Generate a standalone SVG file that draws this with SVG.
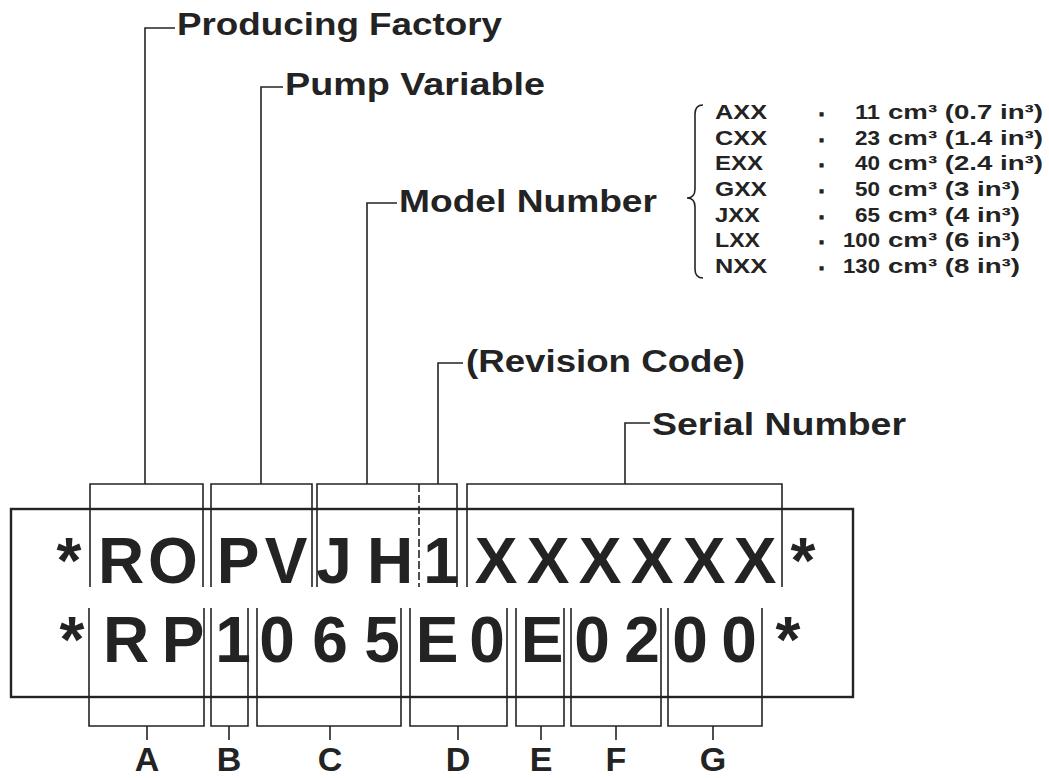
<svg xmlns="http://www.w3.org/2000/svg" width="1049" height="778" viewBox="0 0 1049 778">
<style>
.t{font-family:"Liberation Sans",Arial,Helvetica,sans-serif;font-weight:bold;fill:#232323}
.big{font-size:64px;text-anchor:middle}
.lbl{font-size:31px}
.tbl{font-size:20px}
.ltr{font-size:34px;text-anchor:middle}
.dot{font-size:20px;text-anchor:middle;stroke:#232323;stroke-width:1.2}
.ln{fill:none;stroke:#232323;stroke-width:1.6}
.box{fill:none;stroke:#232323;stroke-width:2.4}
.dash{stroke-dasharray:8 3}
</style>
<rect width="1049" height="778" fill="#ffffff"/>

<g id="connectors">
  <path class="ln" d="M145,484 V28 H175"/>
  <path class="ln" d="M261,484 V87 H283"/>
  <path class="ln" d="M367,484 V203 H397"/>
  <path class="ln" d="M438,484 V363 H463"/>
  <path class="ln" d="M625,484 V423 H650"/>
  <path class="ln" d="M147,726 V740"/>
  <path class="ln" d="M229,726 V740"/>
  <path class="ln" d="M330,726 V740"/>
  <path class="ln" d="M458,726 V740"/>
  <path class="ln" d="M541,726 V740"/>
  <path class="ln" d="M616,726 V740"/>
  <path class="ln" d="M713,726 V740"/>
</g>

<g id="label-producing-factory">
  <text class="t lbl" x="177" y="35" textLength="325" lengthAdjust="spacingAndGlyphs">Producing Factory</text>
</g>
<g id="label-pump-variable">
  <text class="t lbl" x="285" y="95" textLength="260" lengthAdjust="spacingAndGlyphs">Pump Variable</text>
</g>
<g id="label-model-number">
  <text class="t lbl" x="399" y="212" textLength="258" lengthAdjust="spacingAndGlyphs">Model Number</text>
</g>
<g id="label-revision-code">
  <text class="t lbl" x="466" y="372" textLength="279" lengthAdjust="spacingAndGlyphs">(Revision Code)</text>
</g>
<g id="label-serial-number">
  <text class="t lbl" x="652" y="435" textLength="254" lengthAdjust="spacingAndGlyphs">Serial Number</text>
</g>

<g id="model-table">
  <path class="ln" stroke-width="2" d="M703,105 C697,105 695,108 695,114 L695,189 C695,195 692,198 687,198 C692,198 695,201 695,207 L695,269 C695,275 697,278 703,278"/>
  <g class="t tbl">
    <text x="715" y="119" textLength="52" lengthAdjust="spacingAndGlyphs">AXX</text>
    <text x="715" y="144.7" textLength="52" lengthAdjust="spacingAndGlyphs">CXX</text>
    <text x="715" y="170.3" textLength="48" lengthAdjust="spacingAndGlyphs">EXX</text>
    <text x="715" y="196" textLength="52" lengthAdjust="spacingAndGlyphs">GXX</text>
    <text x="715" y="221.7" textLength="45" lengthAdjust="spacingAndGlyphs">JXX</text>
    <text x="715" y="247.3" textLength="45" lengthAdjust="spacingAndGlyphs">LXX</text>
    <text x="715" y="273" textLength="52" lengthAdjust="spacingAndGlyphs">NXX</text>
  </g>
  <g class="t dot">
    <text x="822" y="121">·</text>
    <text x="822" y="146.7">·</text>
    <text x="822" y="172.3">·</text>
    <text x="822" y="198">·</text>
    <text x="822" y="223.7">·</text>
    <text x="822" y="249.3">·</text>
    <text x="822" y="275">·</text>
  </g>
  <g class="t tbl" style="text-anchor:end">
    <text x="880" y="119" textLength="25" lengthAdjust="spacingAndGlyphs">11</text>
    <text x="880" y="144.7" textLength="25" lengthAdjust="spacingAndGlyphs">23</text>
    <text x="880" y="170.3" textLength="25" lengthAdjust="spacingAndGlyphs">40</text>
    <text x="880" y="196" textLength="25" lengthAdjust="spacingAndGlyphs">50</text>
    <text x="880" y="221.7" textLength="25" lengthAdjust="spacingAndGlyphs">65</text>
    <text x="880" y="247.3" textLength="37" lengthAdjust="spacingAndGlyphs">100</text>
    <text x="880" y="273" textLength="37" lengthAdjust="spacingAndGlyphs">130</text>
  </g>
  <g class="t tbl">
    <text x="888" y="119" textLength="155" lengthAdjust="spacingAndGlyphs">cm³ (0.7 in³)</text>
    <text x="888" y="144.7" textLength="155" lengthAdjust="spacingAndGlyphs">cm³ (1.4 in³)</text>
    <text x="888" y="170.3" textLength="155" lengthAdjust="spacingAndGlyphs">cm³ (2.4 in³)</text>
    <text x="888" y="196" textLength="132" lengthAdjust="spacingAndGlyphs">cm³ (3 in³)</text>
    <text x="888" y="221.7" textLength="132" lengthAdjust="spacingAndGlyphs">cm³ (4 in³)</text>
    <text x="888" y="247.3" textLength="132" lengthAdjust="spacingAndGlyphs">cm³ (6 in³)</text>
    <text x="888" y="273" textLength="132" lengthAdjust="spacingAndGlyphs">cm³ (8 in³)</text>
  </g>
</g>

<g id="code-box">
  <rect class="box" x="11" y="509" width="842" height="188"/>
</g>

<g id="top-brackets">
  <path class="ln" d="M90,587 V484 H203 V587"/>
  <path class="ln" d="M211,587 V484 H312 V587"/>
  <path class="ln" d="M317,587 V484 H457 V587"/>
  <path class="ln dash" d="M419,484 V587"/>
  <path class="ln" d="M467,587 V484 H782 V587"/>
</g>

<g id="bottom-brackets">
  <path class="ln" d="M89,608 V726 H204 V608"/>
  <path class="ln" d="M211,608 V726 H248 V608"/>
  <path class="ln" d="M257,608 V726 H401 V608"/>
  <path class="ln" d="M410,608 V726 H507 V608"/>
  <path class="ln" d="M516,608 V726 H564 V608"/>
  <path class="ln" d="M571,608 V726 H661 V608"/>
  <path class="ln" d="M668,608 V726 H762 V608"/>
</g>

<g id="top-row" class="t big">
  <text x="69" y="583">*</text>
  <text x="121" y="583">R</text>
  <text x="173" y="583">O</text>
  <text x="238" y="583">P</text>
  <text x="286" y="583">V</text>
  <text x="334" y="583">J</text>
  <text x="390" y="583">H</text>
  <text x="441" y="583">1</text>
  <text x="496" y="583">X</text>
  <text x="548" y="583">X</text>
  <text x="600" y="583">X</text>
  <text x="652" y="583">X</text>
  <text x="704" y="583">X</text>
  <text x="755" y="583">X</text>
  <text x="803" y="583">*</text>
</g>

<g id="bottom-row" class="t big">
  <text x="72" y="662">*</text>
  <text x="126" y="662">R</text>
  <text x="183" y="662">P</text>
  <text x="233" y="662">1</text>
  <text x="277" y="662">0</text>
  <text x="330" y="662">6</text>
  <text x="382" y="662">5</text>
  <text x="437" y="662">E</text>
  <text x="487" y="662">0</text>
  <text x="542" y="662">E</text>
  <text x="592" y="662">0</text>
  <text x="642" y="662">2</text>
  <text x="690" y="662">0</text>
  <text x="739" y="662">0</text>
  <text x="788" y="662">*</text>
</g>

<g id="segment-letters" class="t ltr">
  <text x="147" y="771">A</text>
  <text x="229" y="771">B</text>
  <text x="330" y="771">C</text>
  <text x="458" y="771">D</text>
  <text x="541" y="771">E</text>
  <text x="616" y="771">F</text>
  <text x="713" y="771">G</text>
</g>
</svg>
